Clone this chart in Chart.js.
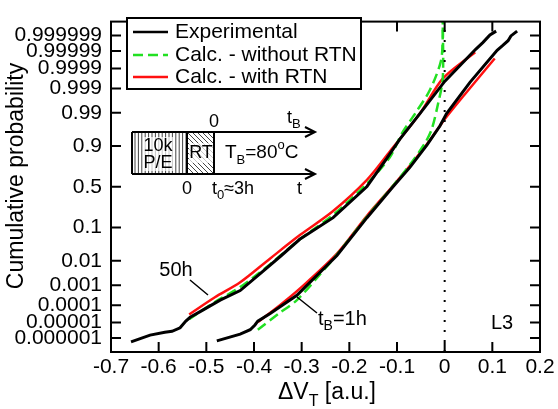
<!DOCTYPE html>
<html><head><meta charset="utf-8">
<script src="https://cdn.jsdelivr.net/npm/chart.js@4"></script>
<style>html,body{margin:0;padding:0;background:#fff}</style>
</head><body>
<canvas id="c" width="558" height="409"></canvas>
<script>
// ---- tick definitions ----
const probTicks  = [0.000001,0.00001,0.0001,0.001,0.01,0.1,0.5,0.9,0.99,0.999,0.9999,0.99999,0.999999];
const probLabels = ['0.000001','0.00001','0.0001','0.001','0.01','0.1','0.5','0.9','0.99','0.999','0.9999','0.99999','0.999999'];
const xMin = -0.7, xMax = 0.2, xStep = 0.1;
const zMin = -5.19, zMax = 5.19;   // probit (sigma) range of the axis

// ---- data: x = dVT [a.u.], z = probit of cumulative probability ----
const exp50hX = [-0.658,-0.618,-0.587,-0.572,-0.555,-0.543,-0.534,-0.513,-0.471,-0.429,-0.387,-0.345,-0.304,-0.234,-0.163,-0.121,-0.094,-0.052,0.000,0.065,0.080,0.095,0.108];
const exp50hZ = [-4.87,-4.66,-4.57,-4.54,-4.43,-4.22,-4.10,-3.92,-3.56,-3.26,-2.73,-2.19,-1.65,-0.97,0.01,0.90,1.50,2.30,3.31,4.32,4.53,4.77,4.89];
const exp1hX  = [-0.478,-0.429,-0.408,-0.398,-0.392,-0.366,-0.310,-0.226,-0.163,-0.108,-0.073,-0.037,-0.010,0.004,0.053,0.110,0.122,0.133,0.139,0.152];
const exp1hZ  = [-4.84,-4.63,-4.49,-4.34,-4.22,-3.98,-3.41,-2.16,-0.97,0.01,0.61,1.32,1.91,2.30,3.28,4.29,4.44,4.59,4.74,4.89];
const noRtn50hX = [-0.536,-0.482,-0.429,-0.366,-0.304,-0.234,-0.163,-0.115,-0.090,-0.062,-0.031,-0.008,-0.004,-0.004];
const noRtn50hZ = [-4.16,-3.62,-3.15,-2.43,-1.65,-0.88,0.10,0.93,1.67,2.30,3.04,3.94,4.69,5.19];
const noRtn1hX  = [-0.392,-0.345,-0.310,-0.262,-0.226,-0.163,-0.108,-0.073,-0.041,-0.027,-0.014,-0.004,-0.004];
const noRtn1hZ  = [-4.49,-3.95,-3.56,-2.76,-2.13,-0.94,0.04,0.69,1.38,1.82,2.60,3.40,5.19];
const rtn50hX = [-0.536,-0.482,-0.429,-0.366,-0.303,-0.234,-0.163,-0.115,-0.052,-0.004,0.064];
const rtn50hZ = [-4.01,-3.47,-3.00,-2.25,-1.51,-0.76,0.22,1.11,2.30,3.40,4.23];
const rtn1hX  = [-0.392,-0.345,-0.304,-0.226,-0.163,-0.108,-0.073,-0.035,0.000,0.042,0.105];
const rtn1hZ  = [-4.25,-3.71,-3.20,-2.10,-0.91,0.04,0.66,1.38,2.12,2.90,4.03];
const refLineX = [0, 0];
const refLineZ = [zMin, zMax];

const legendLabels = ['Experimental','Calc. - without RTN','Calc. - with RTN'];

// inverse standard normal CDF (probit) for the probability axis
function probit(p){
  const a=[-3.969683028665376e+01,2.209460984245205e+02,-2.759285104469687e+02,1.383577518672690e+02,-3.066479806614716e+01,2.506628277459239e+00];
  const b=[-5.447609879822406e+01,1.615858368580409e+02,-1.556989798598866e+02,6.680131188771972e+01,-1.328068155288572e+01];
  const c=[-7.784894002430293e-03,-3.223964580411365e-01,-2.400758277161838e+00,-2.549732539343734e+00,4.374664141464968e+00,2.938163982698783e+00];
  const d=[7.784695709041462e-03,3.224671290700398e-01,2.445134137142996e+00,3.754408661907416e+00];
  const pl=0.02425, ph=1-pl; let q,r;
  if(p<pl){q=Math.sqrt(-2*Math.log(p));return (((((c[0]*q+c[1])*q+c[2])*q+c[3])*q+c[4])*q+c[5])/((((d[0]*q+d[1])*q+d[2])*q+d[3])*q+1);}
  if(p<=ph){q=p-0.5;r=q*q;return (((((a[0]*r+a[1])*r+a[2])*r+a[3])*r+a[4])*r+a[5])*q/(((((b[0]*r+b[1])*r+b[2])*r+b[3])*r+b[4])*r+1);}
  q=Math.sqrt(-2*Math.log(1-p));return -(((((c[0]*q+c[1])*q+c[2])*q+c[3])*q+c[4])*q+c[5])/((((d[0]*q+d[1])*q+d[2])*q+d[3])*q+1);
}
const zip = (xs, zs) => xs.map((x,i)=>({x, y: zs[i]}));

const FONT = '"Liberation Sans", Arial, Helvetica, sans-serif';
const BLACK = '#000', GREEN = '#22e022', RED = '#ff1010';

function richText(ctx, parts, x, y, size, align){
  let w = 0;
  const widths = parts.map(p=>{
    ctx.font = (p.sub||p.sup? Math.round(size*0.7): size) + 'px ' + FONT;
    const m = ctx.measureText(p.t).width; w += m; return m;
  });
  let cx = align==='center' ? x - w/2 : (align==='right' ? x - w : x);
  ctx.textAlign = 'left'; ctx.textBaseline = 'middle';
  parts.forEach((p,i)=>{
    ctx.font = (p.sub||p.sup? Math.round(size*0.7): size) + 'px ' + FONT;
    const dy = p.sub ? size*0.38 : (p.sup ? -size*0.38 : 0);
    ctx.fillText(p.t, cx, y+dy);
    cx += widths[i];
  });
}

const decor = {
  id:'decor',
  afterDraw(chart){
    const ctx = chart.ctx, ca = chart.chartArea;
    const xs = chart.scales.x, ys = chart.scales.y;
    ctx.save();
    ctx.strokeStyle = BLACK; ctx.fillStyle = BLACK;
    ctx.lineWidth = 2;
    ctx.strokeRect(ca.left, ca.top, ca.right-ca.left, ca.bottom-ca.top);
    const TL = 10;
    ctx.beginPath();
    xs.ticks.forEach(t=>{ const px = xs.getPixelForValue(t.value);
      ctx.moveTo(px, ca.bottom); ctx.lineTo(px, ca.bottom-TL);
      ctx.moveTo(px, ca.top); ctx.lineTo(px, ca.top+TL); });
    ys.ticks.forEach(t=>{ const py = ys.getPixelForValue(t.value);
      ctx.moveTo(ca.left, py); ctx.lineTo(ca.left+TL, py);
      ctx.moveTo(ca.right, py); ctx.lineTo(ca.right-TL, py); });
    ctx.stroke();

    // legend
    ctx.lineWidth = 2;
    ctx.fillStyle = '#fff';
    ctx.fillRect(127,18,234,71);
    ctx.strokeRect(127,18,234,71);
    const rows = [32,55,77];
    const styles = [{c:BLACK,d:[]},{c:GREEN,d:[10,5]},{c:RED,d:[]}];
    rows.forEach((ry,i)=>{
      ctx.beginPath(); ctx.strokeStyle = styles[i].c; ctx.lineWidth = 2.5; ctx.setLineDash(styles[i].d);
      ctx.moveTo(133, ry); ctx.lineTo(168, ry); ctx.stroke();
      ctx.setLineDash([]);
      ctx.fillStyle = BLACK; ctx.font = '21px '+FONT; ctx.textAlign='left'; ctx.textBaseline='middle';
      ctx.fillText(legendLabels[i], 175, ry);
    });

    // inset diagram
    ctx.strokeStyle = BLACK; ctx.fillStyle = BLACK;
    ctx.save(); ctx.beginPath(); ctx.rect(132,132,55,42); ctx.clip();
    ctx.lineWidth = 1; ctx.strokeStyle = '#444'; ctx.beginPath();
    for(let hx=135; hx<187; hx+=3.4){ ctx.moveTo(hx,132); ctx.lineTo(hx,174); }
    ctx.stroke(); ctx.restore();
    ctx.save(); ctx.beginPath(); ctx.rect(187,132,27,42); ctx.clip();
    ctx.lineWidth = 1; ctx.strokeStyle = '#444'; ctx.beginPath();
    for(let k=-50; k<40; k+=5){ ctx.moveTo(187+k,132); ctx.lineTo(187+k+42,174); }
    ctx.stroke(); ctx.restore();
    ctx.lineWidth = 2; ctx.strokeStyle = BLACK;
    ctx.beginPath();
    [132,174].forEach(ly=>{ ctx.moveTo(132,ly); ctx.lineTo(315,ly);
      ctx.moveTo(305,ly-5); ctx.lineTo(315,ly); ctx.lineTo(305,ly+5); });
    [132,187,214].forEach(lx=>{ ctx.moveTo(lx,132); ctx.lineTo(lx,174); });
    ctx.stroke();
    ctx.fillStyle='rgba(255,255,255,0.7)'; ctx.fillRect(144,137,29,34); ctx.fillRect(189,143,24,20);
    ctx.fillStyle = BLACK;
    richText(ctx,[{t:'10k'}],158,146,18,'center');
    richText(ctx,[{t:'P/E'}],158,163,18,'center');
    richText(ctx,[{t:'RT'}],201,153,18,'center');
    richText(ctx,[{t:'T'},{t:'B',sub:true},{t:'=80'},{t:'o',sup:true},{t:'C'}],225,153,19,'left');
    richText(ctx,[{t:'0'}],214,122,18,'center');
    richText(ctx,[{t:'t'},{t:'B',sub:true}],287,118,18,'left');
    richText(ctx,[{t:'0'}],187,189,18,'center');
    richText(ctx,[{t:'t'},{t:'0',sub:true},{t:'\u22483h'}],212,189,18,'left');
    richText(ctx,[{t:'t'}],297,189,18,'left');

    // annotations
    ctx.lineWidth = 1.5; ctx.beginPath();
    ctx.moveTo(190,280); ctx.lineTo(208,295);
    ctx.moveTo(297,297); ctx.lineTo(317,313);
    ctx.stroke();
    richText(ctx,[{t:'50h'}],176,270,20,'center');
    richText(ctx,[{t:'t'},{t:'B',sub:true},{t:'=1h'}],318,319,20,'left');
    richText(ctx,[{t:'L3'}],502,323,20,'center');

    // axis titles
    richText(ctx,[{t:'\u0394V'},{t:'T',sub:true},{t:' [a.u.]'}],327,393,23,'center');
    ctx.save(); ctx.translate(17,176); ctx.rotate(-Math.PI/2);
    ctx.font='23px '+FONT; ctx.textAlign='center'; ctx.textBaseline='middle'; ctx.fillStyle=BLACK;
    ctx.fillText('Cumulative probability',0,0); ctx.restore();
    ctx.restore();
  }
};

new Chart(document.getElementById('c'), {
  type:'line',
  data:{ datasets:[
    {data:zip(refLineX,refLineZ), borderColor:BLACK, borderWidth:2, borderDash:[2,8], pointRadius:0, tension:0},
    {data:zip(exp50hX,exp50hZ), borderColor:BLACK, borderWidth:3, pointRadius:0, tension:0},
    {data:zip(exp1hX,exp1hZ), borderColor:BLACK, borderWidth:3, pointRadius:0, tension:0},
    {data:zip(noRtn50hX,noRtn50hZ), borderColor:GREEN, borderWidth:2.5, borderDash:[10,5], pointRadius:0, tension:0.3},
    {data:zip(noRtn1hX,noRtn1hZ), borderColor:GREEN, borderWidth:2.5, borderDash:[10,5], pointRadius:0, tension:0.3},
    {data:zip(rtn50hX,rtn50hZ), borderColor:RED, borderWidth:2.5, pointRadius:0, tension:0.3},
    {data:zip(rtn1hX,rtn1hZ), borderColor:RED, borderWidth:2.5, pointRadius:0, tension:0.3}
  ]},
  options:{
    responsive:false, animation:false, devicePixelRatio:1,
    layout:{padding:{top:3,right:18,left:0,bottom:0}},
    plugins:{legend:{display:false}, tooltip:{enabled:false}},
    scales:{
      x:{type:'linear', min:xMin, max:xMax,
         ticks:{stepSize:xStep, color:BLACK, font:{family:FONT,size:21}, padding:3, maxRotation:0,
                callback:v=>Math.abs(v)<1e-9?'0':(+v.toFixed(1)).toString()},
         grid:{display:false, drawTicks:false}, border:{display:false},
         afterFit:s=>{s.height=57;}},
      y:{type:'linear', min:zMin, max:zMax,
         afterBuildTicks:s=>{s.ticks = probTicks.map(p=>({value:probit(p)}));},
         ticks:{autoSkip:false, color:BLACK, font:{family:FONT,size:21}, padding:9,
                callback:(v,i)=>probLabels[i]},
         grid:{display:false, drawTicks:false}, border:{display:false},
         afterFit:s=>{s.width=111;}}
    }
  },
  plugins:[decor]
});
</script>
</body></html>
